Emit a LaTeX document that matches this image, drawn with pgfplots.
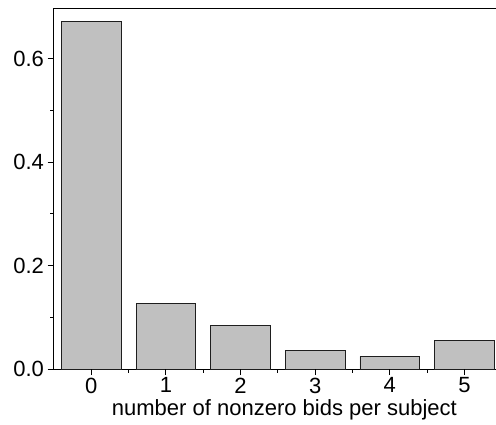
\documentclass[border=0pt]{standalone}
\usepackage{fontspec}
\setmainfont{Liberation Sans}
\usepackage{pgfplots}
\pgfplotsset{compat=1.18}
\begin{document}
\begin{tikzpicture}
\begin{axis}[
  at={(0pt,0pt)}, anchor=south west,
  scale only axis, width=443pt, height=361pt,
  xmin=-0.507, xmax=5.432, ymin=0, ymax=0.6976,
  axis line style={line width=1pt},
  xtick={0,1,2,3,4,5}, xtick pos=bottom,
  minor xtick={0.5,1.5,2.5,3.5,4.5},
  ytick={0,0.2,0.4,0.6}, ytick pos=left,
  minor ytick={0.1,0.3,0.5},
  tick align=outside,
  major tick length=6pt, minor tick length=3.5pt,
  tick style={line width=1pt, black},
  /pgf/number format/assume math mode=true,
  yticklabel style={/pgf/number format/fixed, /pgf/number format/precision=1, /pgf/number format/fixed zerofill},
  tick label style={font=\fontsize{22}{26}\selectfont, black},
  xticklabel style={yshift=1pt},
  xlabel={number of nonzero bids per subject},
  xlabel style={font=\fontsize{22}{26}\selectfont, at={(axis description cs:0.521,0)}, anchor=north, yshift=-27pt},
  clip=false,
]
\addplot[ybar, bar width=0.8, fill={rgb,255:red,192;green,192;blue,192}, draw={rgb,255:red,30;green,30;blue,30}, line width=0.9pt]
  coordinates {(0,0.672) (1,0.127) (2,0.084) (3,0.0365) (4,0.0245) (5,0.0555)};
\pgfplotsinvokeforeach{0,0.2,0.4,0.6}{
  \draw[line width=1pt, black] (axis cs:-0.507,#1) -- ++(-6pt,0pt);
}
\pgfplotsinvokeforeach{0,1,2,3,4,5}{
  \draw[line width=1pt, black] (axis cs:#1,0) -- ++(0pt,-6pt);
}
\end{axis}
\pgfresetboundingbox
\path (-53.5pt,-55pt) rectangle (442.3pt,369pt);
\end{tikzpicture}
\end{document}
